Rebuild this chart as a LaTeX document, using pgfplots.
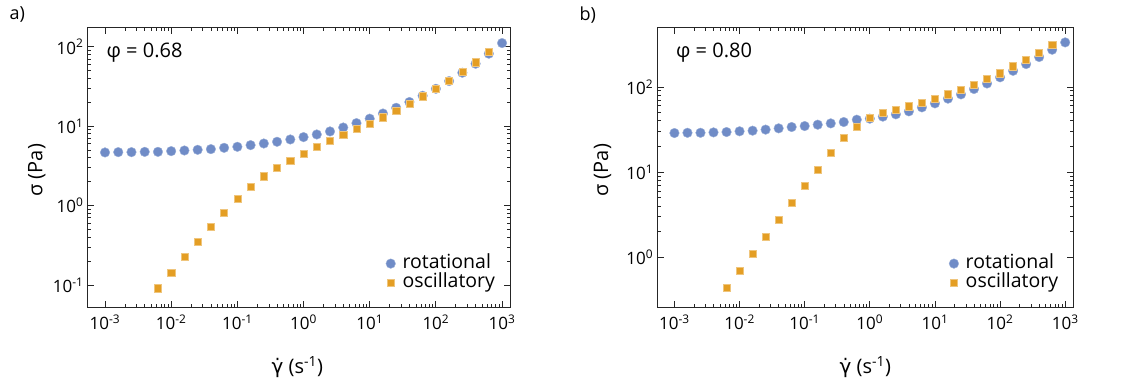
\documentclass[border=0pt]{standalone}
\usepackage{pgfplots}
\pgfplotsset{compat=1.18}
\usepackage{fontspec}
\setmainfont{Open Sans}
\newfontfamily\dejavu{DejaVu Sans}
\definecolor{mblue}{RGB}{112,140,199}
\definecolor{morange}{RGB}{228,158,36}
\pgfplotsset{
  rotser/.style={only marks, mark=*, mark size=4.8bp, mark options={fill=mblue, draw=mblue!70!white, line width=0.4bp}},
  oscser/.style={only marks, mark=square*, mark size=3.6bp, mark options={fill=morange, draw=morange!60!white, line width=0.5bp}},
}
\begin{document}
\begin{tikzpicture}
\pgfplotsset{
  every axis/.append style={
    scale only axis, height=279bp,
    xmin=5.534e-4, xmax=1318,
    axis line style={line width=1bp, black!85},
    tick align=inside,
    major tick length=6bp, minor tick length=3bp,
    tick style={line width=0.8bp, black!85},
    xtick={1e-3,1e-2,1e-1,1,10,100,1000},
    xticklabels={10\textsuperscript{-3},10\textsuperscript{-2},10\textsuperscript{-1},10\textsuperscript{0},10\textsuperscript{1},10\textsuperscript{2},10\textsuperscript{3}},
    xticklabel style={font=\fontsize{17bp}{20bp}\selectfont, yshift=-4bp},
    yticklabel style={font=\fontsize{17bp}{20bp}\selectfont, xshift=-1bp},
    xlabel={{\dejavu γ̇} (s\textsuperscript{-1})},
    ylabel={σ (Pa)},
    label style={font=\fontsize{20bp}{24bp}\selectfont},
    legend style={draw=none, fill=none, font=\fontsize{19.5bp}{22bp}\selectfont,
      row sep=0bp, inner sep=0pt,
      nodes={inner xsep=3bp, inner ysep=0bp, text height=14.5bp, text depth=5bp}},
    legend cell align=left,
  }
}
\path[use as bounding box] (0,0) rectangle (1128bp,384bp);
\node[font=\fontsize{18bp}{21bp}\selectfont, anchor=west] at (6bp,369bp) {a)};
\node[font=\fontsize{18bp}{21bp}\selectfont, anchor=west] at (576bp,369bp) {b)};
\begin{loglogaxis}[at={(88bp,77bp)}, anchor=south west, width=422bp,
  ymin=0.0528, ymax=171.8,
  ytick={0.1,1,10,100},
  yticklabels={10\textsuperscript{-1},10\textsuperscript{0},10\textsuperscript{1},10\textsuperscript{2}},
  xlabel style={at={(axis description cs:0.496,-0.215)}, anchor=center},
  ylabel style={at={(axis description cs:-0.121,0.49)}, anchor=center},
  legend style={at={(axis description cs:0.972,0.05)}, anchor=south east},
]
\addplot[rotser] coordinates {
(1e-3,4.66) (1.585e-3,4.70) (2.512e-3,4.70) (3.981e-3,4.74) (6.310e-3,4.74)
(1e-2,4.84) (1.585e-2,4.93) (2.512e-2,5.03) (3.981e-2,5.13) (6.310e-2,5.33)
(1e-1,5.49) (1.585e-1,5.76) (2.512e-1,6.04) (3.981e-1,6.35) (6.310e-1,6.79)
(1,7.27) (1.585,7.85) (2.512,8.57) (3.981,9.6) (6.310,10.9)
(10,12.4) (15.85,14.4) (25.12,17.0) (39.81,20.1) (63.10,24.1)
(100,29.5) (158.5,36.9) (251.2,47) (398.1,61) (631.0,81.6) (1000,111)
};
\addlegendentry{\hspace{4bp}rotational}
\addplot[oscser] coordinates {
(6.310e-3,0.0908) (1e-2,0.143) (1.585e-2,0.228) (2.512e-2,0.352) (3.981e-2,0.539) (6.310e-2,0.817)
(1e-1,1.21) (1.585e-1,1.72) (2.512e-1,2.34) (3.981e-1,3.01) (6.310e-1,3.69)
(1,4.48) (1.585,5.44) (2.512,6.53) (3.981,7.7) (6.310,9.17)
(10,10.8) (15.85,12.9) (25.12,15.6) (39.81,19.1) (63.10,23.7)
(100,29.5) (158.5,37.6) (251.2,48.4) (398.1,63.5) (631.0,85.7)
};
\addlegendentry{\hspace{4bp}oscillatory}
\node[anchor=west, font=\fontsize{20bp}{24bp}\selectfont] at (axis description cs:0.036,0.91) {φ = 0.68};
\end{loglogaxis}
\begin{loglogaxis}[at={(657.7bp,77bp)}, anchor=south west, width=415.3bp,
  ymin=0.261, ymax=493,
  ytick={1,10,100},
  yticklabels={10\textsuperscript{0},10\textsuperscript{1},10\textsuperscript{2}},
  xlabel style={at={(axis description cs:0.5,-0.215)}, anchor=center},
  ylabel style={at={(axis description cs:-0.1325,0.49)}, anchor=center},
  legend style={at={(axis description cs:0.972,0.05)}, anchor=south east},
]
\addplot[rotser] coordinates {
(1e-3,28.8) (1.585e-3,29.0) (2.512e-3,29.0) (3.981e-3,29.3) (6.310e-3,29.6)
(1e-2,30.2) (1.585e-2,30.7) (2.512e-2,31.6) (3.981e-2,32.7) (6.310e-2,33.9)
(1e-1,34.8) (1.585e-1,36.1) (2.512e-1,37.4) (3.981e-1,38.8) (6.310e-1,41.3)
(1,42.5) (1.585,44.9) (2.512,47.8) (3.981,51.8) (6.310,57.7)
(10,64.3) (15.85,73) (25.12,82) (39.81,94.8) (63.10,110)
(100,130) (158.5,155) (251.2,186) (398.1,225) (631.0,274) (1000,334)
};
\addlegendentry{\hspace{4bp}rotational}
\addplot[oscser] coordinates {
(6.310e-3,0.44) (1e-2,0.70) (1.585e-2,1.10) (2.512e-2,1.75) (3.981e-2,2.77) (6.310e-2,4.38)
(1e-1,6.94) (1.585e-1,10.7) (2.512e-1,16.8) (3.981e-1,25.2) (6.310e-1,34.5)
(1,43.3) (1.585,49.5) (2.512,54.2) (3.981,59.3) (6.310,65.5)
(10,73) (15.85,82) (25.12,93) (39.81,107) (63.10,124)
(100,145) (158.5,175) (251.2,209) (398.1,255) (631.0,314)
};
\addlegendentry{\hspace{4bp}oscillatory}
\node[anchor=west, font=\fontsize{20bp}{24bp}\selectfont] at (axis description cs:0.036,0.91) {φ = 0.80};
\end{loglogaxis}
\end{tikzpicture}
\end{document}
